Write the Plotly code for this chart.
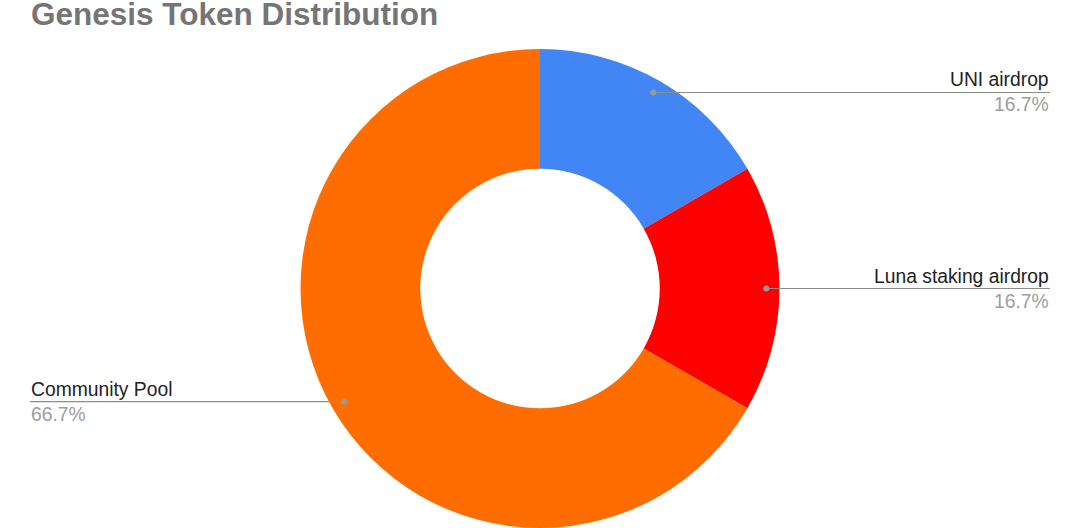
import math
import plotly.graph_objects as go

# ---- data ----
categories = ["UNI airdrop", "Luna staking airdrop", "Community Pool"]
values = [1, 1, 4]
colors = ["#4285F4", "#FF0000", "#FF6D01"]
title_text = "Genesis Token Distribution"

# ---- layout geometry (pixels) ----
W, H = 1080, 528
M_TOP, M_BOT = 49, 0
plot_h = H - M_TOP - M_BOT
R = min(W, plot_h) / 2.0
CX, CY = W / 2.0, M_TOP + plot_h / 2.0
DOT_R = 0.945 * R
RIGHT_X, LEFT_X = 1050, 30
FONT = "Liberation Sans, Arial, sans-serif"
LABEL_SIZE = 19.3


def px(x):
    return x / W


def py(y):
    return (H - M_BOT - y) / plot_h


fig = go.Figure(
    go.Pie(
        labels=categories,
        values=values,
        marker=dict(colors=colors, line=dict(width=0)),
        hole=0.5,
        sort=False,
        direction="clockwise",
        textinfo="none",
        showlegend=False,
        domain=dict(x=[0, 1], y=[0, 1]),
    )
)

total = float(sum(values))
shapes = []
annotations = []
cum = 0.0
for lab, v in zip(categories, values):
    frac = v / total
    mid = (cum + frac / 2.0) * 2 * math.pi
    cum += frac
    dx = CX + DOT_R * math.sin(mid)
    dy = CY - DOT_R * math.cos(mid)
    right = math.sin(mid) > 1e-9
    x0, x1 = (dx, RIGHT_X) if right else (LEFT_X, dx)
    tx = RIGHT_X if right else LEFT_X
    anchor = "right" if right else "left"
    shapes.append(dict(type="line", xref="paper", yref="paper",
                       x0=px(x0), x1=px(x1), y0=py(dy), y1=py(dy),
                       line=dict(color="#8c8c8c", width=1.2)))
    shapes.append(dict(type="circle", xref="paper", yref="paper",
                       x0=px(dx - 3), x1=px(dx + 3), y0=py(dy + 3), y1=py(dy - 3),
                       fillcolor="#9a9a9a", line=dict(width=0)))
    annotations.append(dict(text=lab, xref="paper", yref="paper",
                            x=px(tx), y=py(dy - 1), xanchor=anchor, yanchor="bottom",
                            showarrow=False, borderpad=0,
                            font=dict(family=FONT, size=LABEL_SIZE, color="#222222")))
    annotations.append(dict(text=f"{frac*100:.1f}%", xref="paper", yref="paper",
                            x=px(tx), y=py(dy + 1), xanchor=anchor, yanchor="top",
                            showarrow=False, borderpad=0,
                            font=dict(family=FONT, size=LABEL_SIZE, color="#9e9e9e")))

annotations.append(dict(text=f"<b>{title_text}</b>", xref="paper", yref="paper",
                        x=px(30), y=py(14), xanchor="left", yanchor="middle",
                        showarrow=False, borderpad=0,
                        font=dict(family=FONT, size=31.5, color="#757575")))

fig.update_layout(
    width=W, height=H,
    margin=dict(l=0, r=0, t=M_TOP, b=M_BOT),
    paper_bgcolor="white", plot_bgcolor="white",
    shapes=shapes, annotations=annotations,
)

fig.write_html(
    "out.html",
    config={"displayModeBar": False},
    post_script="document.body.style.margin='0';document.body.style.overflow='hidden';",
)
